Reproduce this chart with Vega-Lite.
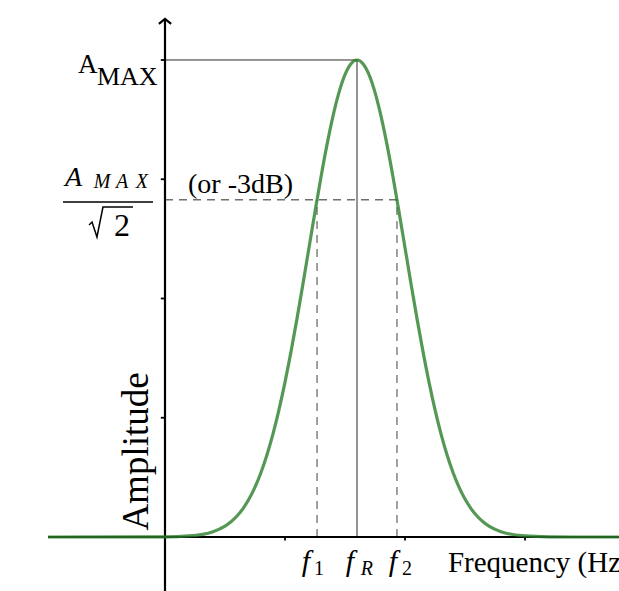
{
  "$schema": "https://vega.github.io/schema/vega-lite/v6.json",
  "width": 619,
  "height": 591,
  "autosize": {"type": "none"},
  "padding": 0,
  "background": "white",
  "config": {"view": {"stroke": null}},
  "datasets": {
    "curve": [
      {"x": -0.975, "y": 0}, {"x": 0, "y": 0.00134}, {"x": 0.2, "y": 0.00875}, {"x": 0.4, "y": 0.0444},
      {"x": 0.5, "y": 0.0912}, {"x": 0.55, "y": 0.1276}, {"x": 0.6, "y": 0.1758}, {"x": 0.65, "y": 0.2383},
      {"x": 0.7, "y": 0.3182}, {"x": 0.75, "y": 0.4184}, {"x": 0.8, "y": 0.5413}, {"x": 0.85, "y": 0.6896},
      {"x": 0.9, "y": 0.8651}, {"x": 0.95, "y": 1.0682}, {"x": 1.0, "y": 1.2986}, {"x": 1.05, "y": 1.5543},
      {"x": 1.1, "y": 1.8313}, {"x": 1.15, "y": 2.1244}, {"x": 1.2, "y": 2.4261}, {"x": 1.25, "y": 2.7277},
      {"x": 1.3, "y": 3.0194}, {"x": 1.35, "y": 3.2903}, {"x": 1.4, "y": 3.53}, {"x": 1.45, "y": 3.7284},
      {"x": 1.5, "y": 3.8769}, {"x": 1.55, "y": 3.9689}, {"x": 1.6, "y": 4.0}, {"x": 1.65, "y": 3.9689},
      {"x": 1.7, "y": 3.8769}, {"x": 1.75, "y": 3.7284}, {"x": 1.8, "y": 3.53}, {"x": 1.85, "y": 3.2903},
      {"x": 1.9, "y": 3.0194}, {"x": 1.95, "y": 2.7277}, {"x": 2.0, "y": 2.4261}, {"x": 2.05, "y": 2.1244},
      {"x": 2.1, "y": 1.8313}, {"x": 2.15, "y": 1.5543}, {"x": 2.2, "y": 1.2986}, {"x": 2.25, "y": 1.0682},
      {"x": 2.3, "y": 0.8651}, {"x": 2.35, "y": 0.6896}, {"x": 2.4, "y": 0.5413}, {"x": 2.45, "y": 0.4184},
      {"x": 2.5, "y": 0.3182}, {"x": 2.55, "y": 0.2383}, {"x": 2.6, "y": 0.1758}, {"x": 2.65, "y": 0.1276},
      {"x": 2.7, "y": 0.0912}, {"x": 2.8, "y": 0.0444}, {"x": 3.0, "y": 0.00875}, {"x": 3.2, "y": 0.00134},
      {"x": 3.4, "y": 0.00016}, {"x": 3.6, "y": 0.00001}, {"x": 3.783, "y": 0}
    ],
    "segments": [
      {"kind": "dash", "x": 0, "x2": 1.96, "y": 2.828, "y2": 2.828},
      {"kind": "dash", "x": 1.267, "x2": 1.267, "y": 0, "y2": 2.828},
      {"kind": "dash", "x": 1.933, "x2": 1.933, "y": 0, "y2": 2.828},
      {"kind": "thin", "x": 0, "x2": 1.6, "y": 4, "y2": 4},
      {"kind": "thin", "x": 1.6, "x2": 1.6, "y": 0, "y2": 4},
      {"kind": "axis", "x": -0.975, "x2": 3.783, "y": 0, "y2": 0},
      {"kind": "axis", "x": 0, "x2": 0, "y": -0.46, "y2": 4.344},
      {"kind": "tick", "x": 1, "x2": 1, "y": 0, "y2": -0.03},
      {"kind": "tick", "x": 2, "x2": 2, "y": 0, "y2": -0.03},
      {"kind": "tick", "x": 3, "x2": 3, "y": 0, "y2": -0.03},
      {"kind": "tick", "x": -0.035, "x2": 0, "y": 1, "y2": 1},
      {"kind": "tick", "x": -0.035, "x2": 0, "y": 2, "y2": 2},
      {"kind": "tick", "x": -0.035, "x2": 0, "y": 3, "y2": 3},
      {"kind": "tick", "x": -0.035, "x2": 0, "y": 4, "y2": 4},
      {"kind": "bar", "x": -0.85, "x2": -0.1, "y": 2.809, "y2": 2.809}
    ],
    "radical": [
      {"step": 1, "x": -0.633, "y": 2.616},
      {"step": 2, "x": -0.608, "y": 2.641},
      {"step": 3, "x": -0.567, "y": 2.516},
      {"step": 4, "x": -0.517, "y": 2.767},
      {"step": 5, "x": -0.267, "y": 2.767}
    ],
    "arrow": [{"x": 0, "y": 4.344}],
    "labels": [
      {"kind": "big", "label": "A", "x": -0.725, "y": 3.891},
      {"kind": "mid", "label": "MAX", "x": -0.567, "y": 3.79},
      {"kind": "r28", "label": "(or -3dB)", "x": 0.192, "y": 2.885},
      {"kind": "freq", "label": "Frequency (Hz)", "x": 2.358, "y": -0.2935},
      {"kind": "two", "label": "2", "x": -0.425, "y": 2.524},
      {"kind": "ital", "label": "A", "x": -0.833, "y": 2.943},
      {"kind": "subital", "label": "M", "x": -0.525, "y": 2.926},
      {"kind": "subital", "label": "A", "x": -0.358, "y": 2.926},
      {"kind": "subital", "label": "X", "x": -0.192, "y": 2.926},
      {"kind": "f", "label": "f", "x": 1.175, "y": -0.289},
      {"kind": "f", "label": "f", "x": 1.542, "y": -0.289},
      {"kind": "f", "label": "f", "x": 1.9, "y": -0.289},
      {"kind": "subrom", "label": "1", "x": 1.283, "y": -0.319},
      {"kind": "subital", "label": "R", "x": 1.683, "y": -0.319},
      {"kind": "subrom", "label": "2", "x": 2.017, "y": -0.319},
      {"kind": "amp", "label": "Amplitude", "x": -0.142, "y": 0.717}
    ]
  },
  "encoding": {
    "x": {"field": "x", "type": "quantitative", "scale": {"domain": [-1.375, 3.7833], "nice": false, "zero": false}, "axis": null},
    "y": {"field": "y", "type": "quantitative", "scale": {"domain": [-0.4528, 4.503], "nice": false, "zero": false}, "axis": null}
  },
  "layer": [
    {
      "data": {"name": "segments"},
      "transform": [{"filter": "datum.kind === 'dash'"}],
      "mark": {"type": "rule", "color": "#6e6e6e", "strokeWidth": 1.3, "strokeDash": [8, 6]},
      "encoding": {"x2": {"field": "x2"}, "y2": {"field": "y2"}}
    },
    {
      "data": {"name": "segments"},
      "transform": [{"filter": "datum.kind === 'thin'"}],
      "mark": {"type": "rule", "color": "#2a2a2a", "strokeWidth": 1},
      "encoding": {"x2": {"field": "x2"}, "y2": {"field": "y2"}}
    },
    {
      "data": {"name": "segments"},
      "transform": [{"filter": "datum.kind === 'axis'"}],
      "mark": {"type": "rule", "color": "#000000", "strokeWidth": 2.2},
      "encoding": {"x2": {"field": "x2"}, "y2": {"field": "y2"}}
    },
    {
      "data": {"name": "segments"},
      "transform": [{"filter": "datum.kind === 'tick'"}],
      "mark": {"type": "rule", "color": "#000000", "strokeWidth": 1.8},
      "encoding": {"x2": {"field": "x2"}, "y2": {"field": "y2"}}
    },
    {
      "data": {"name": "segments"},
      "transform": [{"filter": "datum.kind === 'bar'"}],
      "mark": {"type": "rule", "color": "#000000", "strokeWidth": 1.3},
      "encoding": {"x2": {"field": "x2"}, "y2": {"field": "y2"}}
    },
    {
      "data": {"name": "radical"},
      "mark": {"type": "line", "color": "#000000", "strokeWidth": 1.5, "strokeJoin": "miter"},
      "encoding": {"order": {"field": "step", "type": "quantitative"}}
    },
    {
      "data": {"name": "curve"},
      "mark": {"type": "line", "color": "#2a7d2a", "opacity": 0.8, "strokeWidth": 3.2, "interpolate": "monotone", "clip": true},
      "encoding": {"order": {"field": "x", "type": "quantitative"}}
    },
    {
      "data": {"name": "arrow"},
      "mark": {"type": "point", "shape": "M-1,0.8L0,0L1,0.8", "filled": false, "stroke": "#000000", "strokeWidth": 2.2, "size": 150, "opacity": 1}
    },
    {
      "data": {"name": "labels"},
      "transform": [{"filter": "datum.kind === 'big'"}],
      "mark": {"type": "text", "font": "Liberation Serif", "fontSize": 27, "align": "left", "baseline": "alphabetic", "color": "#000000"},
      "encoding": {"text": {"field": "label"}}
    },
    {
      "data": {"name": "labels"},
      "transform": [{"filter": "datum.kind === 'mid'"}],
      "mark": {"type": "text", "font": "Liberation Serif", "fontSize": 26, "align": "left", "baseline": "alphabetic", "color": "#000000"},
      "encoding": {"text": {"field": "label"}}
    },
    {
      "data": {"name": "labels"},
      "transform": [{"filter": "datum.kind === 'r28'"}],
      "mark": {"type": "text", "font": "Liberation Serif", "fontSize": 28, "align": "left", "baseline": "alphabetic", "color": "#000000"},
      "encoding": {"text": {"field": "label"}}
    },
    {
      "data": {"name": "labels"},
      "transform": [{"filter": "datum.kind === 'freq'"}],
      "mark": {"type": "text", "font": "Liberation Serif", "fontSize": 29, "align": "left", "baseline": "alphabetic", "color": "#000000"},
      "encoding": {"text": {"field": "label"}}
    },
    {
      "data": {"name": "labels"},
      "transform": [{"filter": "datum.kind === 'two'"}],
      "mark": {"type": "text", "font": "Liberation Serif", "fontSize": 32, "align": "left", "baseline": "alphabetic", "color": "#000000"},
      "encoding": {"text": {"field": "label"}}
    },
    {
      "data": {"name": "labels"},
      "transform": [{"filter": "datum.kind === 'ital'"}],
      "mark": {"type": "text", "font": "Liberation Serif", "fontStyle": "italic", "fontSize": 28, "align": "left", "baseline": "alphabetic", "color": "#000000"},
      "encoding": {"text": {"field": "label"}}
    },
    {
      "data": {"name": "labels"},
      "transform": [{"filter": "datum.kind === 'subital'"}],
      "mark": {"type": "text", "font": "Liberation Serif", "fontStyle": "italic", "fontSize": 20, "align": "center", "baseline": "alphabetic", "color": "#000000"},
      "encoding": {"text": {"field": "label"}}
    },
    {
      "data": {"name": "labels"},
      "transform": [{"filter": "datum.kind === 'subrom'"}],
      "mark": {"type": "text", "font": "Liberation Serif", "fontSize": 20, "align": "center", "baseline": "alphabetic", "color": "#000000"},
      "encoding": {"text": {"field": "label"}}
    },
    {
      "data": {"name": "labels"},
      "transform": [{"filter": "datum.kind === 'f'"}],
      "mark": {"type": "text", "font": "Liberation Serif", "fontStyle": "italic", "fontSize": 30, "align": "center", "baseline": "alphabetic", "color": "#000000"},
      "encoding": {"text": {"field": "label"}}
    },
    {
      "data": {"name": "labels"},
      "transform": [{"filter": "datum.kind === 'amp'"}],
      "mark": {"type": "text", "font": "Liberation Serif", "fontSize": 37, "align": "center", "baseline": "alphabetic", "angle": 270, "color": "#000000"},
      "encoding": {"text": {"field": "label"}}
    }
  ]
}
